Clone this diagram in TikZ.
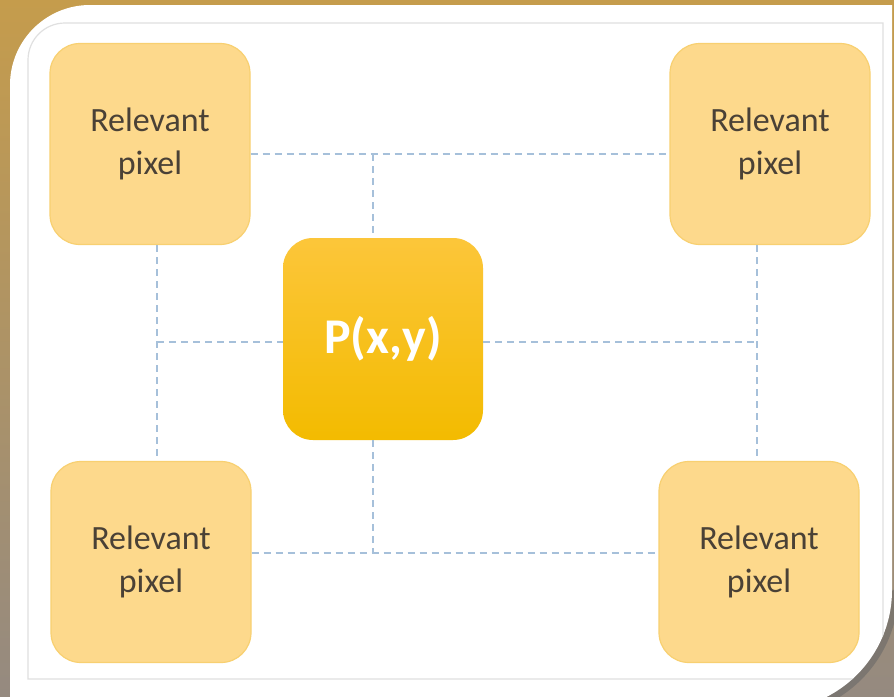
\documentclass[tikz,border=0pt]{standalone}
\usepackage{fontspec}
\setmainfont{Carlito}
\definecolor{boxfill}{HTML}{FDD98C}
\definecolor{boxedge}{HTML}{F8D071}
\definecolor{goldtop}{HTML}{FCC63A}
\definecolor{goldbot}{HTML}{F3BB00}
\definecolor{dashcol}{HTML}{A6C0DA}
\definecolor{txtcol}{HTML}{4A4136}
\definecolor{bgtop}{HTML}{C59C4C}
\definecolor{bgbot}{HTML}{958A80}
\begin{document}
\begin{tikzpicture}[x=1pt,y=-1pt,
  pixbox/.style={draw=boxedge, line width=1.2pt, fill=boxfill, rounded corners=30pt,
    minimum width=200pt, minimum height=201pt, align=center, text=txtcol,
    font=\fontsize{34}{43}\selectfont, inner sep=0pt},
  centerbox/.style={top color=goldtop, bottom color=goldbot, draw=none, rounded corners=30pt,
    minimum width=200pt, minimum height=202pt, text=white,
    font=\fontsize{50}{54}\selectfont\bfseries, inner sep=0pt},
  dline/.style={draw=dashcol, line width=1.8pt, dash pattern=on 7pt off 5pt}]
\useasboundingbox (0,0) rectangle (894,696);
% background
\fill[top color=bgtop, bottom color=bgbot] (0,0) rectangle (894,696);
% shadow of the panel corner
\draw[line width=7pt, black!60, opacity=0.55] (895,590) arc(0:90:123);
% white panel
\fill[white] (10,720) -- (10,85) arc(180:270:80) -- (892,5) -- (892,590) arc(0:90:120) -- (10,710) -- cycle;
\begin{scope}
\clip (10,720) -- (10,85) arc(180:270:80) -- (892,5) -- (892,590) arc(0:90:120) -- (10,710) -- cycle;
\draw[black!12, line width=1.2pt] (28,679) -- (28,60) arc(180:270:37) -- (883,23) -- (883,679) -- cycle;
\end{scope}
% junction coordinates
\coordinate (jt) at (373,154);
\coordinate (jl) at (157,342);
\coordinate (jr) at (757,342);
\coordinate (jb) at (373,553);
% nodes
\node[pixbox] (tl) at (150,144) {Relevant\\pixel};
\node[pixbox] (tr) at (770,144) {Relevant\\pixel};
\node[pixbox] (bl) at (151,562) {Relevant\\pixel};
\node[pixbox] (br) at (759,562) {Relevant\\pixel};
\node[centerbox] (c) at (383,339) {P(x,y)};
% dashed connectors
\draw[dline] (tl.east |- jt) -- (tr.west |- jt);
\draw[dline] (jt) -- (c.north -| jt);
\draw[dline] (tl.south -| jl) -- (bl.north -| jl);
\draw[dline] (jl) -- (c.west |- jl);
\draw[dline] (c.east |- jr) -- (jr);
\draw[dline] (tr.south -| jr) -- (br.north -| jr);
\draw[dline] (c.south -| jb) -- (jb);
\draw[dline] (bl.east |- jb) -- (br.west |- jb);
\end{tikzpicture}
\end{document}
